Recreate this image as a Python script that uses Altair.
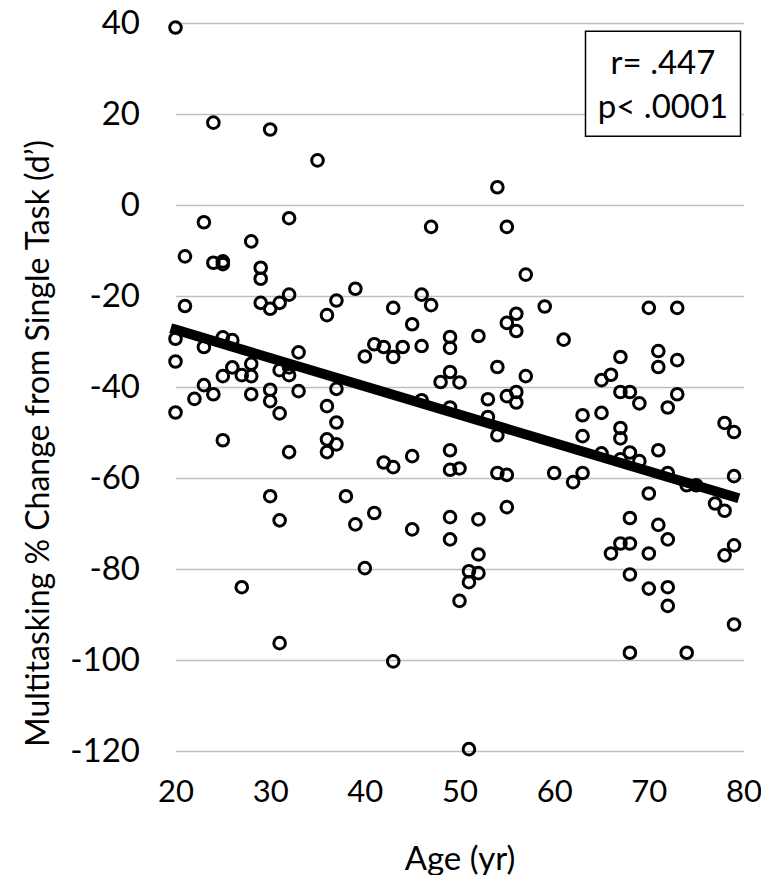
import altair as alt
import pandas as pd

# Age (yr) and multitasking % change from single task (d')
ages = (
    [20] * 4 + [21] * 2 + [22] + [23] * 3 + [24] * 3 + [25] * 5 + [26] * 2 + [27] * 2
    + [28] * 4 + [29] * 3 + [30] * 5 + [31] * 5 + [32] * 5 + [33] * 2 + [35]
    + [36] * 4 + [37] * 4 + [38] + [39] * 2 + [40] * 2 + [41] * 2 + [42] * 2 + [43] * 4
    + [44] + [45] * 3 + [46] * 3 + [47] * 2 + [48] + [49] * 8 + [50] * 3 + [51] * 3
    + [52] * 4 + [53] * 2 + [54] * 4 + [55] * 5 + [56] * 4 + [57] * 2 + [59] + [60]
    + [61] + [62] + [63] * 3 + [65] * 3 + [66] * 2 + [67] * 6 + [68] * 6 + [69] * 2
    + [70] * 4 + [71] * 4 + [72] * 5 + [73] * 3 + [74] * 2 + [75] + [77] + [78] * 3
    + [79] * 4
)
changes = [
    39.0, -29.4, -34.4, -45.6,            # 20
    -11.3, -22.2,                         # 21
    -42.6,                                # 22
    -3.8, -31.2, -39.6,                   # 23
    18.1, -12.7, -41.6,                   # 24
    -12.4, -13.0, -29.1, -37.6, -51.7,    # 25
    -29.7, -35.7,                         # 26
    -37.4, -84.0,                         # 27
    -8.0, -34.9, -37.6, -41.6,            # 28
    -13.8, -16.2, -21.5,                  # 29
    16.6, -22.8, -40.6, -43.1, -64.0,     # 30
    -21.5, -36.3, -45.8, -69.3, -96.3,    # 31
    -2.9, -19.7, -35.7, -37.4, -54.3,     # 32
    -32.4, -40.9,                         # 33
    9.8,                                  # 35
    -24.2, -44.2, -51.5, -54.3,           # 36
    -21.0, -40.4, -47.8, -52.6,           # 37
    -64.0,                                # 38
    -18.4, -70.2,                         # 39
    -33.3, -79.8,                         # 40
    -30.6, -67.7,                         # 41
    -31.2, -56.6,                         # 42
    -22.6, -33.4, -57.6, -100.3,          # 43
    -31.2,                                # 44
    -26.2, -55.2, -71.3,                  # 45
    -19.7, -31.0, -42.9,                  # 46
    -4.8, -22.0,                          # 47
    -38.9,                                # 48
    -29.0, -31.4, -36.7, -44.5, -53.9, -58.2, -68.6, -73.5,  # 49
    -39.0, -57.9, -87.0,                  # 50
    -80.5, -82.9, -119.6,                 # 51
    -28.8, -69.1, -76.8, -80.9,           # 52
    -42.7, -46.6,                         # 53
    3.9, -35.6, -50.6, -58.9,             # 54
    -4.8, -25.9, -42.0, -59.3, -66.4,     # 55
    -23.9, -27.7, -41.1, -43.4,           # 56
    -15.3, -37.6,                         # 57
    -22.3,                                # 59
    -58.9,                                # 60
    -29.6,                                # 61
    -60.9,                                # 62
    -46.2, -50.8, -58.9,                  # 63
    -38.5, -45.7, -54.6,                  # 65
    -37.3, -76.6,                         # 66
    -33.4, -41.1, -49.0, -51.3, -55.9, -74.4,   # 67
    -41.1, -54.4, -68.8, -74.4, -81.2, -98.4,   # 68
    -43.6, -56.3,                         # 69
    -22.6, -63.4, -76.6, -84.3,           # 70
    -32.1, -35.6, -53.9, -70.3,           # 71
    -44.5, -58.9, -73.5, -84.0, -88.1,    # 72
    -22.6, -34.1, -41.6,                  # 73
    -61.6, -98.4,                         # 74
    -61.6,                                # 75
    -65.6,                                # 77
    -47.9, -67.2, -77.0,                  # 78
    -49.9, -59.6, -74.8, -92.2,           # 79
]

x_ticks = [20, 30, 40, 50, 60, 70, 80]
y_ticks = [-120, -100, -80, -60, -40, -20, 0, 20, 40]
stats_lines = ["r= .447", "p< .0001"]

df = pd.DataFrame({"age": ages, "change": changes})

FONT = "Lato"
FS = 33
W = 568

x_enc = alt.X(
    "age:Q",
    scale=alt.Scale(domain=[20, 80], nice=False, zero=False),
    axis=alt.Axis(
        values=x_ticks, grid=False, ticks=False, domain=False, labelFlush=False,
        labelFontSize=31, labelPadding=26, labelFont=FONT, labelColor="black",
        labelExpr="'' + datum.value",
        title="Age (yr)", titleFontSize=FS, titleFont=FONT, titleFontWeight="normal",
        titleColor="black", titleY=118, titleBaseline="alphabetic",
    ),
)
y_enc = alt.Y(
    "change:Q",
    scale=alt.Scale(domain=[-120, 40], nice=False, zero=False),
    axis=alt.Axis(
        values=y_ticks, grid=True, gridColor="#bfbfbf", gridWidth=1.5,
        ticks=False, domain=False, labelFlush=False,
        labelFontSize=FS, labelPadding=36, labelFont=FONT, labelColor="black",
        labelExpr="'' + datum.value",
        title="Multitasking % Change from Single Task (d\u2019)",
        titleFontSize=32, titleFont=FONT, titleFontWeight="normal", titleColor="black",
        titleAngle=270, titleX=-127, titleY=420, titleAlign="center",
        titleBaseline="alphabetic",
    ),
)

base = alt.Chart(df)

points = base.mark_point(
    shape="circle", filled=False, size=135, strokeWidth=3, color="black", opacity=1
).encode(x=x_enc, y=y_enc)

trend = base.transform_regression("age", "change").mark_line(
    color="black", strokeWidth=10, strokeCap="square"
).encode(x="age:Q", y="change:Q")

one_row = pd.DataFrame({"k": [0]})
box = alt.Chart(one_row).mark_rect(
    fill="white", stroke="black", strokeWidth=1.5
).encode(
    x=alt.value(410), x2=alt.value(565), y=alt.value(8.3), y2=alt.value(113.3)
)

line1 = alt.Chart(one_row).mark_text(
    text=stats_lines[0], font=FONT, fontSize=FS, align="center",
    baseline="alphabetic", color="black"
).encode(x=alt.value(487.5), y=alt.value(50.6))

line2 = alt.Chart(one_row).mark_text(
    text=stats_lines[1], font=FONT, fontSize=FS, align="center",
    baseline="alphabetic", color="black"
).encode(x=alt.value(487.5), y=alt.value(94.6))

chart = alt.layer(points, trend, box, line1, line2).properties(
    width=W, height=728,
    autosize=alt.AutoSizeParams(type="none"),
    padding={"left": 167.5, "top": 15, "right": 17.5, "bottom": 124},
).configure_view(stroke=None)

chart.save("out.html", embed_options={"renderer": "svg", "actions": False})
